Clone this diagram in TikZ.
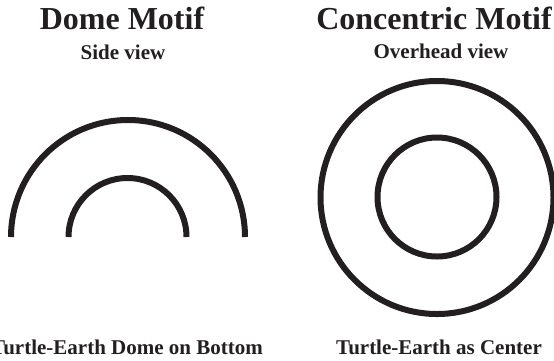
\documentclass[tikz,border=0pt]{standalone}
\usepackage{fontspec}
\setmainfont{Liberation Serif}
\definecolor{ink}{HTML}{231F20}
\begin{document}
\begin{tikzpicture}[x=1pt,y=-1pt,
  motifline/.style={draw=ink, line width=6pt},
  titletext/.style={font=\bfseries\fontsize{32}{32}\selectfont, text=ink, anchor=base, inner sep=0pt},
  subtext/.style={font=\bfseries\fontsize{21}{21}\selectfont, text=ink, anchor=base, inner sep=0pt}]
\useasboundingbox (0,0) rectangle (554,360);
% titles
\node[titletext] (t1) at (122,29.5) {Dome Motif};
\node[subtext] (s1) at (123,59.5) {Side view};
\node[titletext] (t2) at (434,29.5) {Concentric Motif};
\node[subtext] (s2) at (441,58) {Overhead view};
% dome
\draw[motifline] (11,237) arc[start angle=180, delta angle=180, radius=117];
\draw[motifline] (68.5,237) arc[start angle=180, delta angle=180, radius=59];
% concentric
\draw[motifline] (437,197.5) circle[radius=116.5];
\draw[motifline] (437,197) circle[radius=59.5];
% captions
\node[subtext] (c1) at (127,354) {Turtle-Earth Dome on Bottom};
\node[subtext] (c2) at (439,354) {Turtle-Earth as Center};
\end{tikzpicture}
\end{document}
